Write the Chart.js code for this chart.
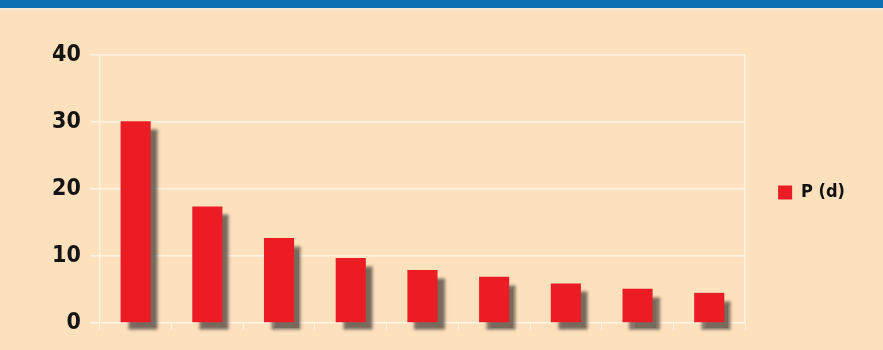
<!DOCTYPE html>
<html><head><meta charset="utf-8">
<script src="https://cdn.jsdelivr.net/npm/chart.js@4"></script>
<style>
html,body{margin:0;padding:0;background:#fde0bc;}
#wrap{position:relative;width:883px;height:350px;background:#fde0bc;}
#bar{position:absolute;left:0;top:0;width:883px;height:8px;background:#0b71b3;border-bottom:2px solid #f6e8d2;}
canvas{position:absolute;left:0;top:0;}
</style></head>
<body><div id="wrap"><canvas id="c" width="883" height="350"></canvas><div id="bar"></div></div>
<script>
const categories = ['1','2','3','4','5','6','7','8','9'];
const seriesName = 'P (d)';
const values = [30.1, 17.4, 12.7, 9.7, 7.9, 6.9, 5.9, 5.1, 4.5];
const yTicks = [0, 10, 20, 30, 40];

const GRID = '#fff4e4';
const FONT = "'Liberation Sans Narrow','DejaVu Sans Condensed','Liberation Sans',sans-serif";

const shadowPlugin = {
  id: 'barShadow',
  beforeDatasetDraw(chart) {
    const ctx = chart.ctx;
    ctx.save();
    ctx.shadowColor = 'rgba(95,85,75,0.85)';
    ctx.shadowOffsetX = 7;
    ctx.shadowOffsetY = 8;
    ctx.shadowBlur = 3;
  },
  afterDatasetDraw(chart) {
    chart.ctx.restore();
  }
};

new Chart(document.getElementById('c'), {
  type: 'bar',
  data: {
    labels: categories,
    datasets: [{
      label: seriesName,
      data: values,
      backgroundColor: '#ec1c24',
      borderWidth: 0,
      barPercentage: 0.42,
      categoryPercentage: 1.0,
      clip: false
    }]
  },
  options: {
    responsive: false,
    animation: false,
    layout: { padding: { top: 55, bottom: 20, left: 42, right: 28 } },
    plugins: {
      tooltip: { enabled: false },
      legend: {
        position: 'right',
        labels: {
          boxWidth: 14, boxHeight: 14, padding: 25,
          color: '#111',
          font: { family: FONT, size: 18, weight: 'bold' }
        }
      }
    },
    scales: {
      x: {
        offset: true,
        grid: { display: true, drawOnChartArea: false, color: GRID, tickLength: 7, offset: true },
        border: { display: false },
        ticks: { display: false }
      },
      y: {
        min: 0, max: 40,
        afterBuildTicks(axis) { axis.ticks = yTicks.map(v => ({ value: v })); },
        grid: { color: GRID, lineWidth: 1.5, tickLength: 9 },
        border: { color: GRID, width: 1.5 },
        ticks: { color: '#141414', padding: 10, font: { family: FONT, size: 23, weight: 'bold' } }
      },
      y1: {
        position: 'right',
        min: 0, max: 40,
        grid: { display: false },
        border: { color: GRID, width: 1.5 },
        ticks: { display: false }
      }
    }
  },
  plugins: [shadowPlugin]
});
</script>
</body></html>
